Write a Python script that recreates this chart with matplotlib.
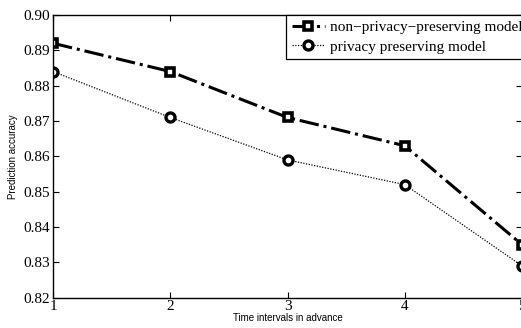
import matplotlib.pyplot as plt
import numpy as np

intervals = [1, 2, 3, 4, 5]
non_private = [0.892, 0.884, 0.871, 0.863, 0.835]
private = [0.884, 0.871, 0.859, 0.852, 0.829]
yticks = [0.82, 0.83, 0.84, 0.85, 0.86, 0.87, 0.88, 0.89, 0.90]

serif = ["Liberation Serif", "DejaVu Serif"]
sans = ["Liberation Sans", "DejaVu Sans"]

fig = plt.figure(figsize=(5.21, 3.28), dpi=100)
ax = fig.add_axes([0.1017, 0.0924, 0.9003, 0.8619])

ax.plot(intervals, non_private, color="black", linestyle="-.", linewidth=2.2,
        marker="s", markersize=5.5, markerfacecolor="white", markeredgecolor="black",
        markeredgewidth=2.6, label="non\u2212privacy\u2212preserving model")
ax.plot(intervals, private, color="black", linestyle=(0, (1, 1.2)), linewidth=0.9,
        marker="o", markersize=6.5, markerfacecolor="white", markeredgecolor="black",
        markeredgewidth=2.4, label="privacy preserving model")

ax.set_xlim(1, 5)
ax.set_ylim(0.82, 0.90)
ax.set_xticks(intervals)
ax.set_yticks(yticks)
ax.set_yticklabels(["%.2f" % v for v in yticks], fontfamily=serif, fontsize=11)
ax.set_xticklabels([str(v) for v in intervals], fontfamily=serif, fontsize=11)
ax.tick_params(direction="in", top=True, right=True, length=4, width=0.8, pad=2)
for s in ax.spines.values():
    s.set_linewidth(1.0)

ax.set_xlabel("Time intervals in advance", fontfamily=sans, fontsize=7, labelpad=0)
ax.set_ylabel("Prediction accuracy", fontfamily=sans, fontsize=7, labelpad=4)

leg = ax.legend(loc="upper right", bbox_to_anchor=(1.012, 1.0), borderaxespad=0,
                prop={"family": serif, "size": 11}, fancybox=False,
                edgecolor="black", framealpha=1, handlelength=2.2,
                handletextpad=0.3, borderpad=0.35, labelspacing=0.4)
leg.get_frame().set_linewidth(0.9)

plt.savefig("out.png", dpi=100)
